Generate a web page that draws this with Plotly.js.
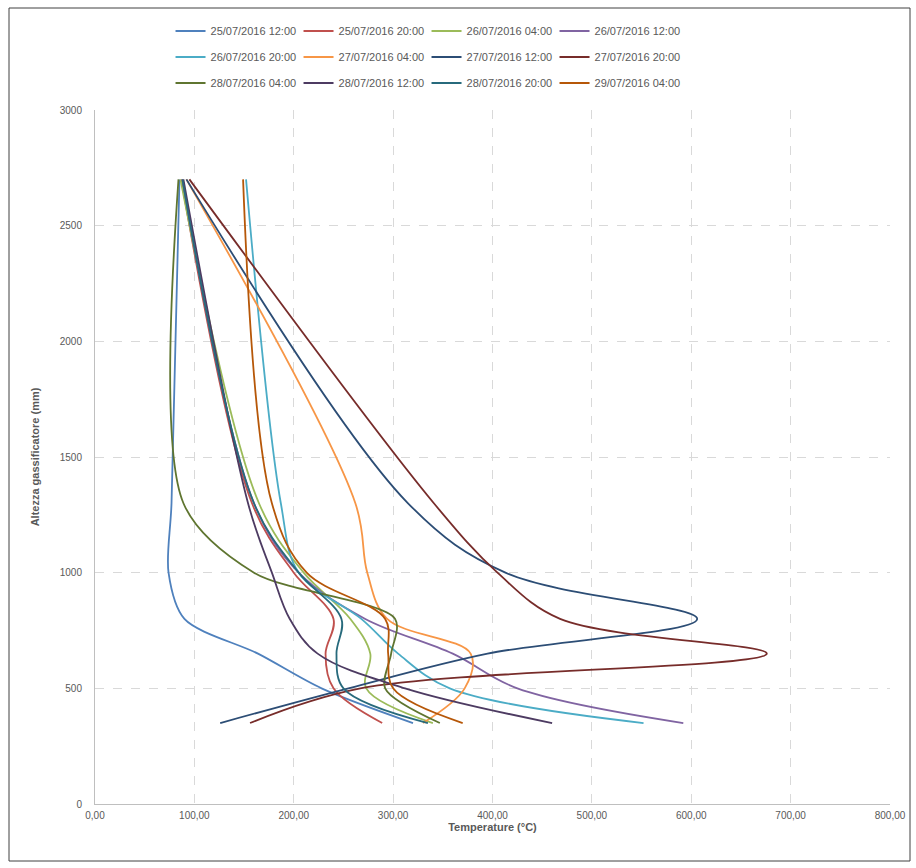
<!DOCTYPE html>
<html>
<head>
<meta charset="utf-8">
<script src="https://cdn.plot.ly/plotly-3.0.1.min.js"></script>
<style>
html,body{margin:0;padding:0;background:#fff;}
#chart{width:916px;height:868px;}
</style>
</head>
<body>
<div id="chart"></div>
<script>
// Heights of the measurement points (mm)
var heights = [350, 500, 650, 800, 1000, 1300, 2700];

// Series names (legend labels)
var seriesNames = [
  "25/07/2016 12:00", "25/07/2016 20:00", "26/07/2016 04:00", "26/07/2016 12:00",
  "26/07/2016 20:00", "27/07/2016 04:00", "27/07/2016 12:00", "27/07/2016 20:00",
  "28/07/2016 04:00", "28/07/2016 12:00", "28/07/2016 20:00", "29/07/2016 04:00"
];

// Temperatures (°C) at each height, one array per series
var t_25_12 = [320, 228, 164, 90, 74, 77, 85];
var t_25_20 = [289, 240, 232, 240, 200, 158, 87];
var t_26_04 = [340, 273, 277, 257, 210, 165, 86];
var t_26_12 = [592, 425, 360, 272, 205, 160, 88];
var t_26_20 = [552, 357, 305, 268, 205, 187, 152];
var t_27_04 = [330, 372, 378, 294, 274, 262, 92];
var t_27_12 = [126, 255, 395, 606, 413, 315, 92];
var t_27_20 = [156, 267, 676, 468, 405, 341, 95];
var t_28_04 = [347, 292, 298, 302, 160, 89, 84];
var t_28_12 = [460, 312, 224, 196, 178, 154, 89];
var t_28_20 = [335, 250, 243, 248, 205, 160, 88];
var t_29_04 = [370, 300, 295, 292, 213, 178, 149];

var seriesValues = [t_25_12, t_25_20, t_26_04, t_26_12, t_26_20, t_27_04,
                    t_27_12, t_27_20, t_28_04, t_28_12, t_28_20, t_29_04];

var colors = ["#4F81BD", "#C0504D", "#9BBB59", "#8064A2", "#4BACC6", "#F79646",
              "#2C4D75", "#772C2A", "#5F7530", "#4D3B62", "#276A7C", "#B65708"];

var smooth = [0.85, 1, 1, 1, 1, 1, 1, 1, 0.85, 1, 1, 1];

var legendIds = ["legend", "legend2", "legend3"];

var traces = seriesValues.map(function (vals, i) {
  return {
    type: "scatter",
    mode: "lines",
    x: vals,
    y: heights,
    name: seriesNames[i],
    legend: legendIds[Math.floor(i / 4)],
    line: {color: colors[i], width: 1.8, shape: "spline", smoothing: smooth[i]},
    hoverinfo: "x+y+name"
  };
});

var txt = "#595959";
var fontFam = "Liberation Sans, Arial, sans-serif";

function legendCfg(yPaper) {
  return {
    orientation: "h",
    x: 0.095, xanchor: "left",
    y: yPaper, yanchor: "middle",
    font: {family: fontFam, size: 11, color: txt},
    bgcolor: "rgba(0,0,0,0)",
    itemwidth: 30,
    entrywidth: 83,
    entrywidthmode: "pixels",
    traceorder: "normal"
  };
}

var layout = {
  width: 916,
  height: 868,
  paper_bgcolor: "#ffffff",
  plot_bgcolor: "#ffffff",
  margin: {l: 95, r: 26, t: 110, b: 64},
  font: {family: fontFam, color: txt},
  showlegend: true,
  legend: legendCfg(1.1138),
  legend2: legendCfg(1.0764),
  legend3: legendCfg(1.0389),
  xaxis: {
    range: [0, 800],
    dtick: 100,
    tick0: 0,
    tickformat: ".2f",
    showgrid: true,
    gridcolor: "#D9D9D9",
    griddash: "dash",
    gridwidth: 1,
    zeroline: false,
    showline: true,
    linecolor: "#BFBFBF",
    linewidth: 1,
    ticks: "",
    ticklabelstandoff: 2,
    tickfont: {family: fontFam, size: 10, color: txt},
    title: {text: "<b>Temperature (°C)</b>", font: {family: fontFam, size: 11, color: txt}, standoff: 0}
  },
  yaxis: {
    range: [0, 3000],
    dtick: 500,
    tick0: 0,
    tickformat: "d",
    showgrid: true,
    gridcolor: "#D9D9D9",
    griddash: "dash",
    gridwidth: 1,
    zeroline: false,
    showline: true,
    linecolor: "#BFBFBF",
    linewidth: 1,
    ticks: "",
    ticklabelstandoff: 10,
    tickfont: {family: fontFam, size: 10, color: txt},
    title: {text: "<b>Altezza gassificatore (mm)</b>", font: {family: fontFam, size: 11, color: txt}, standoff: 17}
  },
  separators: ",.",
  shapes: [{
    type: "rect", xref: "paper", yref: "paper",
    x0: (9 - 95) / 795, x1: (910 - 95) / 795,
    y0: (804 - 861) / 694, y1: (804 - 8) / 694,
    line: {color: "#404040", width: 1}, fillcolor: "rgba(0,0,0,0)", layer: "below"
  }]
};

Plotly.newPlot("chart", traces, layout, {displayModeBar: false, staticPlot: true});
</script>
</body>
</html>
